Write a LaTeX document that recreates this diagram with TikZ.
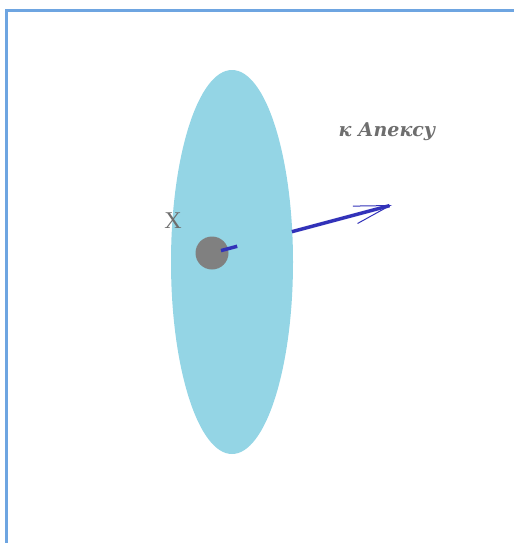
\documentclass[tikz,border=0pt]{standalone}
\usepackage{fontspec}
\setmainfont{Liberation Serif}
\newfontfamily\apexfont{DejaVu Serif}
\usetikzlibrary{shapes.geometric,arrows.meta,calc}

\definecolor{framecol}{RGB}{110,165,225}
\definecolor{diskcol}{RGB}{148,213,229}
\definecolor{dotcol}{RGB}{128,128,128}
\definecolor{arrcol}{RGB}{50,50,185}
\definecolor{txtcol}{RGB}{110,110,110}

\begin{document}
\begin{tikzpicture}[
    x=1pt, y=-1pt,
    disk/.style={ellipse, fill=diskcol, minimum width=122pt, minimum height=384pt, inner sep=0pt},
    dotnode/.style={circle, fill=dotcol, minimum size=33pt, inner sep=0pt},
    arr/.style={draw=arrcol, line width=3.5pt},
    lbl/.style={text=txtcol, inner sep=0pt},
  ]
    \useasboundingbox (0,0) rectangle (514,543);

    % frame (left and top edge only)
    \draw[framecol, line width=2.5pt] (6.5,543) -- (6.5,10.5) -- (514,10.5);

    % disk and the point X
    \node[disk] (disk) at (232,262) {};
    \node[dotnode] (dot) at (212,253) {};
    \node[lbl, font=\fontsize{24}{28}\selectfont] (xlbl) at (173,221) {X};

    % direction to the apex
    \coordinate (tip) at (392,205);
    \node[lbl, font=\apexfont\fontsize{19}{23}\selectfont\bfseries\itshape] (apex) at (387,132) {к Апексу};

    \draw[arr] ($(dot)!0.05!(tip)$) -- ($(dot)!0.14!(tip)$);
    \draw[arr, -{Straight Barb[line width=1pt, length=36pt, width=18pt]}]
      ($(dot)!0.444!(tip)$) -- (tip);
  \end{tikzpicture}
\end{document}
